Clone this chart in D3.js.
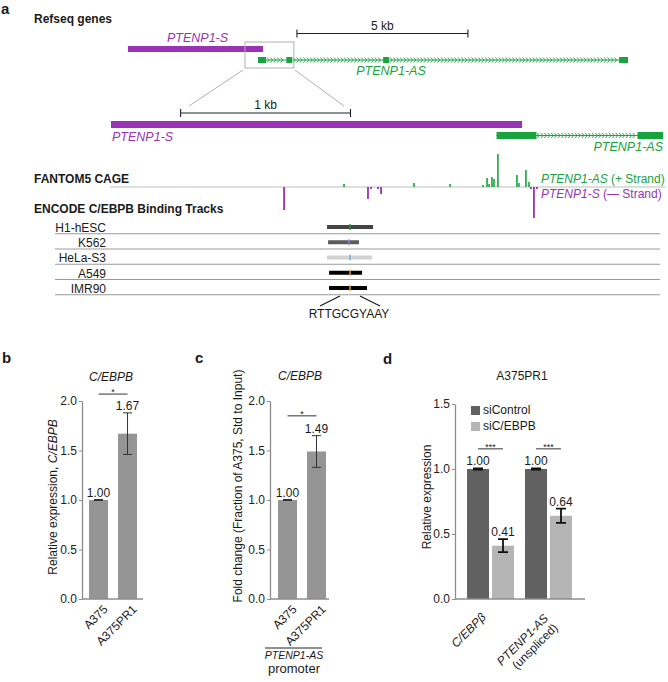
<!DOCTYPE html>
<html>
<head>
<meta charset="utf-8">
<script src="https://cdn.jsdelivr.net/npm/d3@7"></script>
<style>
  body { margin: 0; background: #fff; }
  svg { font-family: "Liberation Sans", Arial, sans-serif; }
</style>
</head>
<body>
<svg id="fig" width="668" height="682"></svg>
<script>
// ---------- data (positions in kb) ----------
const sGene = [0, 3.95];                                   // PTENP1-S
const asExons = [[3.80, 4.035], [4.63, 4.80], [7.46, 7.63], [14.36, 14.62]]; // PTENP1-AS
const zoomBox = [3.42, 4.85];
const bar5kb = [4.94, 9.94];
const bar1kb = [1.94, 2.94];

// FANTOM5 CAGE signal [position kb, tags]
const cagePlus = [[2.902, 3], [3.314, 4], [3.526, 3], [3.720, 2], [3.744, 9], [3.756, 3],
  [3.773, 10], [3.785, 8], [3.808, 33], [3.920, 12], [3.932, 4], [3.973, 17], [3.991, 5]];
const cageMinus = [[2.549, -23], [3.043, -12], [3.061, -2], [3.102, -2], [3.120, -7],
  [4.002, -2], [4.020, -31], [4.038, -2]];

// ENCODE C/EBPB peaks
const encodeCells = ["H1-hESC", "K562", "HeLa-S3", "A549", "IMR90"];
const encodePeaks = [[2.802, 3.073], [2.808, 2.990], [2.802, 3.067], [2.814, 3.008], [2.814, 3.037]];
const motifPos = [2.937, 2.931, 2.937, 2.937, 2.937];
const peakFill = ["#444444", "#5c5c5c", "#d2d2d2", "#000000", "#000000"];
const motifCol = ["#1f9a3c", "#8c86d6", "#6aaed6", "#f0a030", "#f0a030"];

// panel b
const bCats = ["A375", "A375PR1"];
const bVals = [1.00, 1.67];
const bErr = [0.005, 0.21];
// panel c
const cCats = ["A375", "A375PR1"];
const cVals = [1.00, 1.49];
const cErr = [0.005, 0.16];
// panel d
const dGroups = ["C/EBPβ", "PTENP1-AS"];
const dSeries = ["siControl", "siC/EBPB"];
const dVals = [[1.00, 0.41], [1.00, 0.64]];
const dErr = [[0.004, 0.05], [0.004, 0.055]];

const purple = "#9a33b3", green = "#18a33e", axisCol = "#8c8c8c";
const svg = d3.select("#fig");

function txt(x, y, s, o = {}) {
  const t = svg.append("text").attr("x", x).attr("y", y).text(s)
    .attr("font-size", o.size || 12).attr("fill", o.fill || "#1a1a1a");
  if (o.bold) t.attr("font-weight", "bold");
  if (o.italic) t.attr("font-style", "italic");
  if (o.anchor) t.attr("text-anchor", o.anchor);
  return t;
}

// ---------- panel a ----------
txt(1, 14, "a", { size: 15, bold: true });
txt(34, 23, "Refseq genes", { bold: true });

const xTop = d3.scaleLinear().domain([0, 15]).range([128, 641]);
const xZ = d3.scaleLinear().domain([1.53, 4.78]).range([111, 663]);

function scaleBar(x, span, y, label, ly) {
  const a = x(span[0]), b = x(span[1]);
  svg.append("path").attr("d", `M${a},${y - 4}V${y + 4}M${a},${y}H${b}M${b},${y - 4}V${y + 4}`)
    .attr("stroke", "#222").attr("stroke-width", 1.1).attr("fill", "none");
  txt((a + b) / 2, ly, label, { anchor: "middle" });
}

function drawS(x, y, h) {
  const [lo, hi] = x.domain();
  const a = x(Math.max(lo, sGene[0])), b = x(Math.min(hi, sGene[1]));
  svg.append("rect").attr("x", a).attr("y", y).attr("width", b - a).attr("height", h).attr("fill", purple);
}

function drawAS(x, yMid, h) {
  const [lo, hi] = x.domain();
  const c = v => x(Math.max(lo, Math.min(hi, v)));
  svg.append("line").attr("x1", c(asExons[0][0])).attr("x2", c(asExons[asExons.length - 1][1]))
    .attr("y1", yMid).attr("y2", yMid).attr("stroke", green).attr("stroke-width", 1.2);
  const p = d3.path();
  for (let i = 0; i < asExons.length - 1; i++) {
    const a = c(asExons[i][1]) + 2, b = c(asExons[i + 1][0]) - 2;
    for (let px = a; px <= b; px += 3.4) {
      p.moveTo(px - 1, yMid - 2.6); p.lineTo(px + 1.2, yMid); p.lineTo(px - 1, yMid + 2.6);
    }
  }
  svg.append("path").attr("d", p.toString()).attr("fill", "none").attr("stroke", green).attr("stroke-width", 0.9);
  svg.append("g").selectAll("rect").data(asExons.filter(e => e[1] > lo && e[0] < hi)).join("rect")
    .attr("x", e => c(e[0])).attr("width", e => c(e[1]) - c(e[0]))
    .attr("y", yMid - h / 2).attr("height", h).attr("fill", green);
}

// overview
scaleBar(xTop, bar5kb, 33.5, "5 kb", 30);
drawS(xTop, 46, 6);
txt((xTop(sGene[0]) + xTop(sGene[1])) / 2 + 2, 42, "PTENP1-S", { italic: true, fill: purple, size: 12.5, anchor: "middle" });
drawAS(xTop, 60, 6);
txt(391, 75, "PTENP1-AS", { italic: true, fill: green, size: 12.5, anchor: "middle" });
svg.append("rect").attr("x", xTop(zoomBox[0])).attr("y", 42).attr("width", xTop(zoomBox[1]) - xTop(zoomBox[0]))
  .attr("height", 26).attr("fill", "none").attr("stroke", "#b0b0b0").attr("stroke-width", 1);
svg.append("path").attr("d", `M${xTop(zoomBox[0]) - 2},70L189,106M${xTop(zoomBox[1]) + 1},70L344,106`)
  .attr("stroke", "#b0b0b0").attr("stroke-width", 1);

// zoomed view
scaleBar(xZ, bar1kb, 113, "1 kb", 109);
drawS(xZ, 121, 7);
txt(112, 141, "PTENP1-S", { italic: true, fill: purple, size: 12.5 });
drawAS(xZ, 135.5, 7);
txt(663, 151, "PTENP1-AS", { italic: true, fill: green, size: 12.5, anchor: "end" });

// CAGE
txt(34, 183, "FANTOM5 CAGE", { bold: true });
const yC = d3.scaleLinear().domain([-35, 35]).range([222, 152]);
svg.append("line").attr("x1", 110).attr("x2", 665).attr("y1", yC(0)).attr("y2", yC(0))
  .attr("stroke", "#bdbdbd").attr("stroke-width", 1.2);
svg.append("g").selectAll("rect").data(cagePlus).join("rect")
  .attr("x", d => xZ(d[0]) - 0.8).attr("width", 1.6)
  .attr("y", d => yC(d[1])).attr("height", d => yC(0) - yC(d[1])).attr("fill", green);
svg.append("g").selectAll("rect").data(cageMinus).join("rect")
  .attr("x", d => xZ(d[0]) - 0.9).attr("width", 1.8)
  .attr("y", yC(0)).attr("height", d => yC(d[1]) - yC(0)).attr("fill", purple);
const l1 = txt(541, 183, "", { fill: green });
l1.append("tspan").attr("font-style", "italic").text("PTENP1-AS");
l1.append("tspan").text(" (+ Strand)");
const l2 = txt(541, 198, "", { fill: purple });
l2.append("tspan").attr("font-style", "italic").text("PTENP1-S");
l2.append("tspan").text(" (— Strand)");

// ENCODE
txt(34, 213, "ENCODE C/EBPB Binding Tracks", { bold: true });
const yRow = d3.scaleBand().domain(encodeCells).range([218.5, 294.75]);
const rows = svg.append("g").selectAll("g").data(encodeCells).join("g")
  .attr("transform", d => `translate(0,${yRow(d)})`);
rows.append("line").attr("x1", 55).attr("x2", 660).attr("y1", yRow.bandwidth()).attr("y2", yRow.bandwidth())
  .attr("stroke", "#9a9a9a").attr("stroke-width", 1);
rows.append("text").attr("x", 106).attr("y", yRow.bandwidth() - 2).attr("text-anchor", "end")
  .attr("font-size", 12).attr("fill", "#1a1a1a").text(d => d);
rows.append("rect").attr("x", (d, i) => xZ(encodePeaks[i][0])).attr("y", 6.5)
  .attr("width", (d, i) => xZ(encodePeaks[i][1]) - xZ(encodePeaks[i][0])).attr("height", 4)
  .attr("fill", (d, i) => peakFill[i]);
rows.append("rect").attr("x", (d, i) => xZ(motifPos[i]) - 0.7).attr("y", 5.5).attr("width", 1.4).attr("height", 6)
  .attr("fill", (d, i) => motifCol[i]);
const mx = xZ(motifPos[0]);
svg.append("path").attr("d", `M${mx - 10},296L${mx - 30},306M${mx + 10},296L${mx + 30},306`)
  .attr("stroke", "#1a1a1a").attr("stroke-width", 1.2);
txt(mx - 1, 318, "RTTGCGYAAY", { anchor: "middle" });

// ---------- bar chart helpers ----------
function yAxis(y, x, ticks) {
  const g = svg.append("g").attr("transform", `translate(${x},0)`)
    .call(d3.axisLeft(y).tickValues(ticks).tickFormat(d3.format(".1f")).tickSize(3).tickSizeOuter(0).tickPadding(2));
  g.attr("font-family", null);
  g.select(".domain").attr("stroke", axisCol).attr("stroke-width", 1.3);
  g.selectAll(".tick line").attr("stroke", axisCol);
  g.selectAll(".tick text").attr("font-size", 12).attr("fill", "#222");
}
function xLine(x0, x1, y) {
  svg.append("line").attr("x1", x0).attr("x2", x1).attr("y1", y).attr("y2", y)
    .attr("stroke", axisCol).attr("stroke-width", 1.3);
}
function errBar(cx, y, v, e, cap, w, col) {
  svg.append("path").attr("d", `M${cx - cap},${y(v + e)}H${cx + cap}M${cx},${y(v + e)}V${y(v - e)}M${cx - cap},${y(v - e)}H${cx + cap}`)
    .attr("stroke", col).attr("stroke-width", w).attr("fill", "none");
}
function sig(xa, xb, yy, s) {
  svg.append("line").attr("x1", xa).attr("x2", xb).attr("y1", yy).attr("y2", yy).attr("stroke", "#333").attr("stroke-width", 1);
  txt((xa + xb) / 2, yy + 1, s, { size: 9, anchor: "middle" });
}
function rotLabel(x, y, lines, italic) {
  const t = svg.append("text").attr("transform", `translate(${x},${y}) rotate(-45)`)
    .attr("text-anchor", "end").attr("font-size", 12).attr("fill", "#1a1a1a");
  lines.forEach((l, i) => t.append("tspan").attr("x", 0).attr("dy", i ? 13.5 : 0)
    .attr("font-style", italic && i === 0 ? "italic" : null).text(l));
}
function yTitle(x, y, parts) {
  const t = svg.append("text").attr("transform", `translate(${x},${y}) rotate(-90)`)
    .attr("text-anchor", "middle").attr("font-size", 12).attr("fill", "#1a1a1a");
  parts.forEach(p => t.append("tspan").attr("font-style", p[1] ? "italic" : null).text(p[0]));
}

function simplePanel(cats, vals, errs, range, align, outer, yTop, sigY, title) {
  const y = d3.scaleLinear().domain([0, 2]).range([599, 401]);
  const x = d3.scaleBand().domain(cats).range(range).paddingInner(0.345).paddingOuter(outer).align(align);
  svg.append("g").selectAll("rect").data(cats).join("rect")
    .attr("x", d => x(d)).attr("width", x.bandwidth())
    .attr("y", (d, i) => y(vals[i])).attr("height", (d, i) => y(0) - y(vals[i])).attr("fill", "#959595");
  cats.forEach((c, i) => {
    const cx = x(c) + x.bandwidth() / 2;
    errBar(cx, y, vals[i], errs[i], 4.5, 1, "#333");
    txt(cx, y(vals[i] + errs[i]) - 3, vals[i].toFixed(2), { anchor: "middle" });
    rotLabel(cx + 10, 610, [c]);
  });
  yAxis(y, range[0], [0, 0.5, 1, 1.5, 2]);
  xLine(range[0], range[1], y(0));
  const c0 = x(cats[0]) + x.bandwidth() / 2, c1 = x(cats[1]) + x.bandwidth() / 2;
  sig(c0, c1, y(sigY), "*");
  txt((c0 + c1) / 2 - 2, yTop, title, { italic: true, anchor: "middle" });
  return x;
}

// ---------- panel b ----------
txt(2, 363, "b", { size: 15, bold: true });
simplePanel(bCats, bVals, bErr, [82, 143], 0.54, 0.224, 381, 2.07, "C/EBPB");
yTitle(57, 497, [["Relative expression, "], ["C/EBPB", true]]);

// ---------- panel c ----------
txt(195, 363, "c", { size: 15, bold: true });
simplePanel(cCats, cVals, cErr, [270, 329], 0.727, 0.19, 380, 1.85, "C/EBPB");
yTitle(242, 486, [["Fold change (Fraction of A375, Std to Input)"]]);
svg.append("line").attr("x1", 265).attr("x2", 322).attr("y1", 648).attr("y2", 648).attr("stroke", "#222").attr("stroke-width", 1);
txt(294, 659, "PTENP1-AS", { italic: true, size: 10.5, anchor: "middle" });
txt(294, 673, "promoter", { size: 13, anchor: "middle" });

// ---------- panel d ----------
txt(383, 364, "d", { size: 15, bold: true });
txt(522, 380, "A375PR1", { anchor: "middle" });
const yD = d3.scaleLinear().domain([0, 1.5]).range([599, 404]);
const x0 = d3.scaleBand().domain(dGroups).range([455, 585]).paddingInner(0.19).paddingOuter(0.216).align(0.48);
const x1 = d3.scaleBand().domain(dSeries).range([0, x0.bandwidth()]).paddingInner(0.12);
const colD = d3.scaleOrdinal().domain(dSeries).range(["#616161", "#b5b5b5"]);
const grp = svg.append("g").selectAll("g").data(dGroups).join("g")
  .attr("transform", d => `translate(${x0(d)},0)`);
grp.selectAll("rect").data((g, gi) => dSeries.map((s, si) => ({ s, v: dVals[gi][si] }))).join("rect")
  .attr("x", d => x1(d.s)).attr("width", x1.bandwidth())
  .attr("y", d => yD(d.v)).attr("height", d => yD(0) - yD(d.v)).attr("fill", d => colD(d.s));
dGroups.forEach((g, gi) => {
  dSeries.forEach((s, si) => {
    const cx = x0(g) + x1(s) + x1.bandwidth() / 2;
    errBar(cx, yD, dVals[gi][si], dErr[gi][si], 5, 1.8, "#111");
    txt(cx, yD(dVals[gi][si] + dErr[gi][si]) - 3, dVals[gi][si].toFixed(2), { anchor: "middle" });
  });
  const ca = x0(g) + x1(dSeries[0]) + x1.bandwidth() / 2, cb = x0(g) + x1(dSeries[1]) + x1.bandwidth() / 2;
  sig(ca, cb, yD(1.155), "***");
});
yAxis(yD, 455, [0, 0.5, 1, 1.5]);
xLine(455, 585, yD(0));
rotLabel(x0(dGroups[0]) + x0.bandwidth() / 2 - 4, 618, [dGroups[0]], true);
rotLabel(x0(dGroups[1]) + x0.bandwidth() / 2 + 0.5, 619, [dGroups[1], "(unspliced)"], true);
yTitle(431, 497, [["Relative expression"]]);
// legend
dSeries.forEach((s, i) => {
  svg.append("rect").attr("x", 471).attr("y", 406 + i * 16).attr("width", 9).attr("height", 9).attr("fill", colD(s));
  txt(483, 414 + i * 16, s);
});
</script>
</body>
</html>
